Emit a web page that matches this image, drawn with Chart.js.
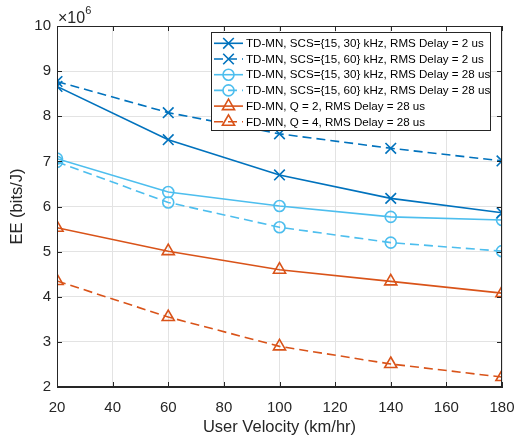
<!DOCTYPE html>
<html lang="en">
<head>
<meta charset="UTF-8">
<title>EE vs User Velocity</title>
<script src="https://cdn.jsdelivr.net/npm/chart.js"></script>
<style>
    html, body { margin: 0; padding: 0; background: #fff; }
    #wrap { width: 517px; height: 443px; }
</style>
</head>
<body>
<div id="wrap"><canvas id="eeChart"></canvas></div>
<script>
    // data (EE in units of 1e6 bits/J)
    const speeds = [20, 60, 100, 140, 180];
    const tdScs30Delay2 = [8.66, 7.48, 6.70, 6.18, 5.86];
    const tdScs60Delay2 = [8.77, 8.08, 7.61, 7.29, 7.01];
    const tdScs30Delay28 = [7.06, 6.32, 6.01, 5.77, 5.70];
    const tdScs60Delay28 = [6.99, 6.09, 5.54, 5.20, 5.01];
    const fdQ2Delay28 = [5.53, 5.01, 4.60, 4.34, 4.08];
    const fdQ4Delay28 = [4.35, 3.55, 2.90, 2.51, 2.22];
    const seriesLabels = [
        'TD-MN, SCS={15, 30} kHz, RMS Delay = 2 us',
        'TD-MN, SCS={15, 60} kHz, RMS Delay = 2 us',
        'TD-MN, SCS={15, 30} kHz, RMS Delay = 28 us',
        'TD-MN, SCS={15, 60} kHz, RMS Delay = 28 us',
        'FD-MN, Q = 2, RMS Delay = 28 us',
        'FD-MN, Q = 4, RMS Delay = 28 us'
    ];
    const xTitle = 'User Velocity (km/hr)';
    const yTitle = 'EE (bits/J)';
    const yExponent = '6';

    const BLUE = '#0072BD';
    const CYAN = '#4DBEEE';
    const ORANGE = '#D95319';
    const AXIS = '#262626';
    const FONT = '"Liberation Sans", Arial, Helvetica, sans-serif';
    const DASH = [9, 5];

    function toPoints(values) {
        return values.map((v, i) => ({ x: speeds[i], y: v }));
    }

    function makeSet(label, values, color, style, dashed, radius) {
        return {
            label: label,
            data: toPoints(values),
            borderColor: color,
            backgroundColor: color,
            borderWidth: 1.6,
            borderDash: dashed ? DASH : [],
            pointStyle: style,
            pointRadius: radius,
            pointBorderWidth: 1.6,
            pointBorderColor: color,
            pointBackgroundColor: 'rgba(0,0,0,0)',
            tension: 0,
            fill: false
        };
    }

    const datasets = [
        makeSet(seriesLabels[0], tdScs30Delay2, BLUE, 'crossRot', false, 7.5),
        makeSet(seriesLabels[1], tdScs60Delay2, BLUE, 'crossRot', true, 7.5),
        makeSet(seriesLabels[2], tdScs30Delay28, CYAN, 'circle', false, 5.5),
        makeSet(seriesLabels[3], tdScs60Delay28, CYAN, 'circle', true, 5.5),
        makeSet(seriesLabels[4], fdQ2Delay28, ORANGE, 'triangle', false, 7),
        makeSet(seriesLabels[5], fdQ4Delay28, ORANGE, 'triangle', true, 7)
    ];

    // inner ticks, box, exponent and legend drawn on top
    const matlabLook = {
        id: 'matlabLook',
        afterDraw(chart) {
            const ctx = chart.ctx;
            const a = chart.chartArea;
            const xs = chart.scales.x;
            const ys = chart.scales.y;
            ctx.save();
            ctx.strokeStyle = AXIS;
            ctx.lineWidth = 1;
            ctx.setLineDash([]);
            ctx.strokeRect(a.left + 0.5, a.top + 0.5, a.right - a.left - 1, a.bottom - a.top - 1);
            const tl = 5;
            ctx.beginPath();
            xs.ticks.forEach(t => {
                const px = Math.round(xs.getPixelForValue(t.value)) + 0.5;
                ctx.moveTo(px, a.bottom); ctx.lineTo(px, a.bottom - tl);
                ctx.moveTo(px, a.top); ctx.lineTo(px, a.top + tl);
            });
            ys.ticks.forEach(t => {
                const py = Math.round(ys.getPixelForValue(t.value)) + 0.5;
                ctx.moveTo(a.left, py); ctx.lineTo(a.left + tl, py);
                ctx.moveTo(a.right, py); ctx.lineTo(a.right - tl, py);
            });
            ctx.stroke();

            // x10^6 multiplier
            ctx.fillStyle = AXIS;
            ctx.textBaseline = 'alphabetic';
            ctx.textAlign = 'left';
            ctx.font = '16px ' + FONT;
            ctx.fillText('\u00d710', a.left + 1, a.top - 3);
            const w = ctx.measureText('\u00d710').width;
            ctx.font = '11px ' + FONT;
            ctx.fillText(yExponent, a.left + 1 + w, a.top - 12);

            // legend box
            const bx = 211, by = 32, bw = 279, bh = 98;
            ctx.fillStyle = '#fff';
            ctx.fillRect(bx, by, bw, bh);
            ctx.strokeStyle = AXIS;
            ctx.strokeRect(bx + 0.5, by + 0.5, bw, bh);
            const rowH = 15.7;
            chart.data.datasets.forEach((ds, i) => {
                const cy = by + 11.3 + i * rowH;
                ctx.strokeStyle = ds.borderColor;
                ctx.lineWidth = ds.borderWidth;
                ctx.setLineDash(ds.borderDash);
                ctx.beginPath();
                ctx.moveTo(214, cy);
                ctx.lineTo(243, cy);
                ctx.stroke();
                ctx.setLineDash([]);
                ctx.fillStyle = 'rgba(0,0,0,0)';
                Chart.helpers.drawPoint(ctx, {
                    pointStyle: ds.pointStyle,
                    radius: ds.pointRadius,
                    rotation: 0,
                    borderWidth: ds.pointBorderWidth
                }, 228.5, cy);
                ctx.fillStyle = '#000';
                ctx.font = '11.6px ' + FONT;
                ctx.textBaseline = 'middle';
                ctx.fillText(ds.label, 246, cy + 0.5);
            });
            ctx.restore();
        }
    };

    new Chart(document.getElementById('eeChart'), {
        type: 'line',
        data: { datasets: datasets },
        options: {
            responsive: true,
            maintainAspectRatio: false,
            animation: false,
            devicePixelRatio: 1,
            layout: { padding: { top: 26, right: 15, left: 0, bottom: 0 } },
            plugins: { legend: { display: false }, tooltip: { enabled: false } },
            scales: {
                x: {
                    type: 'linear',
                    min: 20,
                    max: 180,
                    ticks: { stepSize: 20, color: AXIS, font: { family: FONT, size: 15 }, padding: 12, maxRotation: 0 },
                    grid: { color: '#e3e3e3', drawTicks: false },
                    border: { display: true, color: AXIS },
                    title: { display: true, text: xTitle, color: AXIS, font: { family: FONT, size: 16.5 }, padding: { top: 2, bottom: 6 } },
                    afterFit(scale) {
                        scale.height = 56;
                        scale.paddingLeft = 0;
                        scale.paddingRight = 0;
                    }
                },
                y: {
                    min: 2,
                    max: 10,
                    ticks: { stepSize: 1, color: AXIS, font: { family: FONT, size: 15 }, padding: 6 },
                    grid: { color: '#e3e3e3', drawTicks: false },
                    border: { display: true, color: AXIS },
                    title: { display: true, text: yTitle, color: AXIS, font: { family: FONT, size: 16.5 }, padding: { top: 8, bottom: 2 } },
                    afterFit(scale) {
                        scale.width = 57;
                        scale.paddingTop = 0;
                        scale.paddingBottom = 0;
                    }
                }
            }
        },
        plugins: [matlabLook]
    });
</script>
</body>
</html>
